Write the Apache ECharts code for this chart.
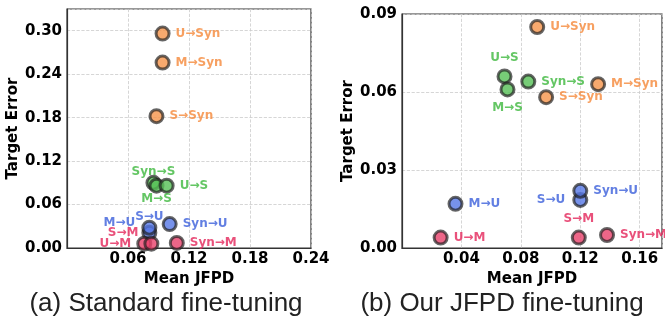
<!DOCTYPE html>
<html>
<head>
<meta charset="utf-8">
<script src="https://cdn.jsdelivr.net/npm/echarts@6/dist/echarts.min.js"></script>
<style>
  html, body { margin: 0; padding: 0; background: #fff; }
  #main { width: 665px; height: 322px; }
</style>
</head>
<body>
<div id="main"></div>
<script>
// [name, mean JFPD, target error]
var stdToSyn = [['U→Syn', 0.094, 0.296], ['M→Syn', 0.094, 0.256], ['S→Syn', 0.088, 0.182]];
var stdToS   = [['Syn→S', 0.085, 0.090], ['M→S', 0.088, 0.086], ['U→S', 0.098, 0.086]];
var stdToU   = [['M→U', 0.081, 0.021], ['S→U', 0.081, 0.028], ['Syn→U', 0.101, 0.033]];
var stdToM   = [['U→M', 0.076, 0.006], ['S→M', 0.083, 0.006], ['Syn→M', 0.108, 0.007]];

var ourToSyn = [['U→Syn', 0.091, 0.085], ['S→Syn', 0.097, 0.058], ['M→Syn', 0.132, 0.063]];
var ourToS   = [['U→S', 0.069, 0.066], ['M→S', 0.071, 0.061], ['Syn→S', 0.085, 0.064]];
var ourToU   = [['M→U', 0.036, 0.017], ['S→U', 0.120, 0.0185], ['Syn→U', 0.120, 0.022]];
var ourToM   = [['U→M', 0.026, 0.004], ['S→M', 0.119, 0.004], ['Syn→M', 0.138, 0.005]];

var stdYTicks = [0, 0.06, 0.12, 0.18, 0.24, 0.30];
var stdXTicks = [0.06, 0.12, 0.18, 0.24];
var ourYTicks = [0, 0.03, 0.06, 0.09];
var ourXTicks = [0.04, 0.08, 0.12, 0.16];

var panelTitles = ['(a) Standard fine-tuning', '(b) Our JFPD fine-tuning'];

// label placement per panel (position, offset)
var placeA = {
    'Syn→S': ['top', [0, 8]], 'M→S': ['bottom', [0, -6]],
    'S→U': ['top', [0, 8]], 'M→U': ['left', [-1, -10]],
    'S→M': ['left', [0, -11]], 'U→M': ['left', [0, 0]]
};
var placeB = {
    'U→S': ['top', [0, 0]], 'M→S': ['bottom', [0, -1]],
    'S→U': ['left', [-2, 0]], 'S→M': ['top', [0, 0]]
};

var fills = {Syn: '#F5934A', S: '#55BF55', U: '#5577E6', M: '#E8406A'};
var texts = {Syn: '#F5883A', S: '#3DB83D', U: '#3B5FDB', M: '#E3265A'};

var font = 'DejaVu Sans';

function makeSeries(data, key, idx, place) {
    return {
        type: 'scatter',
        xAxisIndex: idx,
        yAxisIndex: idx,
        symbolSize: 13,
        itemStyle: {color: fills[key], borderColor: 'rgba(30,30,30,0.85)', borderWidth: 3},
        data: data.map(function (d) {
            var p = place[d[0]] || ['right', [0, 0]];
            return {
                name: d[0],
                value: [d[1], d[2]],
                label: {
                    show: true, position: p[0], offset: p[1], distance: 5,
                    formatter: d[0], color: texts[key],
                    fontFamily: font, fontWeight: 'bold', fontSize: 12
                }
            };
        })
    };
}

function axisCommon() {
    return {
        axisLine: {show: true, lineStyle: {color: '#333', width: 1.2}},
        axisTick: {show: false},
        splitLine: {show: true, lineStyle: {color: '#ccc', type: 'dashed', width: 0.8}},
        axisLabel: {fontFamily: font, fontWeight: 'bold', fontSize: 15, color: '#000'},
        nameTextStyle: {fontFamily: font, fontWeight: 'bold', fontSize: 15, color: '#000'}
    };
}

function tickFormatter(ticks) {
    return function (v) {
        for (var i = 0; i < ticks.length; i++) {
            if (Math.abs(ticks[i] - v) < 1e-9) return ticks[i].toFixed(2);
        }
        return '';
    };
}

function xAxisOf(idx, min, max, interval, ticks) {
    var a = axisCommon();
    a.gridIndex = idx;
    a.type = 'value';
    a.min = min; a.max = max; a.interval = interval;
    a.name = 'Mean JFPD';
    a.nameLocation = 'middle';
    a.nameGap = 20;
    a.axisLabel.margin = 4;
    a.axisLabel.formatter = tickFormatter(ticks);
    return a;
}

function yAxisOf(idx, min, max, interval, ticks, gap) {
    var a = axisCommon();
    a.gridIndex = idx;
    a.type = 'value';
    a.min = min; a.max = max; a.interval = interval;
    a.name = 'Target Error';
    a.nameLocation = 'middle';
    a.nameGap = gap;
    a.axisLabel.margin = 5;
    a.axisLabel.formatter = tickFormatter(ticks);
    return a;
}

var myChart = echarts.init(document.getElementById('main'));

var option = {
    animation: false,
    backgroundColor: '#fff',
    title: [
        {text: panelTitles[0], left: 161, top: 286, textAlign: 'center',
         textStyle: {fontFamily: 'Liberation Sans', fontWeight: 'normal', fontSize: 26, color: '#222'}},
        {text: panelTitles[1], left: 497, top: 286, textAlign: 'center',
         textStyle: {fontFamily: 'Liberation Sans', fontWeight: 'normal', fontSize: 26, color: '#222'}}
    ],
    grid: [
        {left: 67, top: 9, width: 244, height: 239, show: true, borderColor: '#333', borderWidth: 1.2, backgroundColor: 'transparent'},
        {left: 402, top: 14, width: 261, height: 234, show: true, borderColor: '#333', borderWidth: 1.2, backgroundColor: 'transparent'}
    ],
    xAxis: [
        xAxisOf(0, 0, 0.24, 0.06, stdXTicks),
        xAxisOf(1, 0, 0.175, 0.04, ourXTicks)
    ],
    yAxis: [
        yAxisOf(0, 0, 0.33, 0.06, stdYTicks, 44),
        yAxisOf(1, 0, 0.09, 0.03, ourYTicks, 45)
    ],
    series: [
        makeSeries(stdToSyn, 'Syn', 0, placeA),
        makeSeries(stdToS, 'S', 0, placeA),
        makeSeries(stdToU, 'U', 0, placeA),
        makeSeries(stdToM, 'M', 0, placeA),
        makeSeries(ourToSyn, 'Syn', 1, placeB),
        makeSeries(ourToS, 'S', 1, placeB),
        makeSeries(ourToU, 'U', 1, placeB),
        makeSeries(ourToM, 'M', 1, placeB)
    ]
};

myChart.setOption(option);
</script>
</body>
</html>
